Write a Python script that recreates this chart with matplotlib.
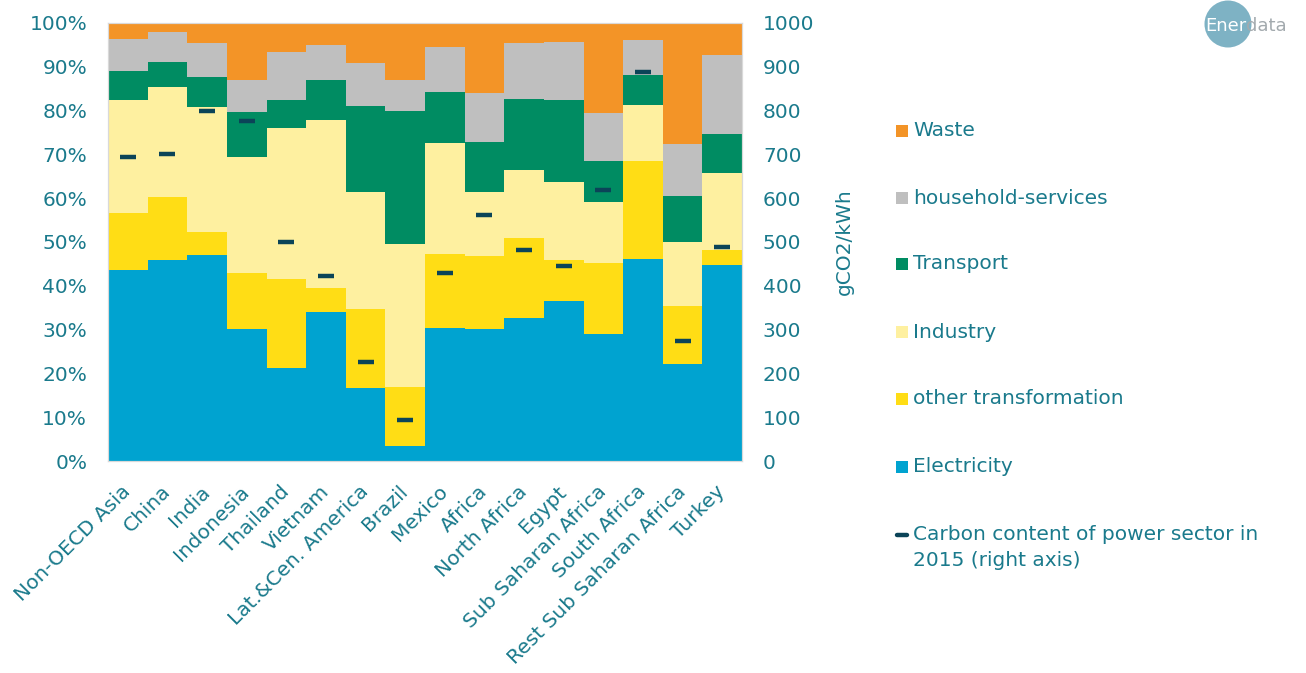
import numpy as np
import matplotlib.pyplot as plt
from matplotlib.patches import Rectangle, Circle
from matplotlib.lines import Line2D
from matplotlib.ticker import PercentFormatter

# Regions and sector shares of emissions (%)
regions = ["Non-OECD Asia", "China", "India", "Indonesia", "Thailand", "Vietnam",
           "Lat.&Cen. America", "Brazil", "Mexico", "Africa", "North Africa", "Egypt",
           "Sub Saharan Africa", "South Africa", "Rest Sub Saharan Africa", "Turkey"]

electricity = [43.6, 45.8, 47.0, 30.2, 21.3, 34.1, 16.6, 3.4, 30.3, 30.1, 32.6, 36.6, 29.1, 46.2, 22.1, 44.7]
other_transformation = [13.0, 14.4, 5.2, 12.6, 20.2, 5.3, 18.0, 13.5, 16.9, 16.8, 18.3, 9.2, 16.0, 22.3, 13.3, 3.4]
industry = [25.8, 25.1, 28.6, 26.7, 34.4, 38.5, 26.7, 32.7, 25.3, 14.4, 15.5, 17.8, 14.0, 12.8, 14.5, 17.6]
transport = [6.7, 5.8, 6.9, 10.1, 6.5, 9.1, 19.8, 30.3, 11.8, 11.4, 16.3, 18.9, 9.4, 6.9, 10.6, 9.0]
household_services = [7.3, 6.9, 7.8, 7.3, 11.0, 8.0, 9.7, 7.0, 10.3, 11.4, 12.6, 13.1, 11.0, 8.0, 11.9, 18.0]
waste = [3.6, 2.0, 4.5, 13.1, 6.6, 5.0, 9.2, 13.1, 5.4, 15.9, 4.7, 4.4, 20.5, 3.8, 27.6, 7.3]

# Carbon content of power sector in 2015 (gCO2/kWh, right axis)
carbon_content = [693, 700, 800, 777, 500, 422, 227, 93, 430, 561, 481, 444, 618, 888, 273, 488]

TEXT = "#1A7A8C"
sectors = [
    ("Electricity", electricity, "#00A3D0"),
    ("other transformation", other_transformation, "#FFDD15"),
    ("Industry", industry, "#FEF0A0"),
    ("Transport", transport, "#008C62"),
    ("household-services", household_services, "#BFBFBF"),
    ("Waste", waste, "#F39427"),
]

plt.rcParams["font.family"] = ["DejaVu Sans"]
plt.rcParams["font.size"] = 14.5

fig = plt.figure(figsize=(13.06, 6.73), dpi=100)
ax = fig.add_axes([0.0827, 0.315, 0.4855, 0.651])

x = np.arange(len(regions))
bottom = np.zeros(len(regions))
for name, vals, col in sectors:
    vals = np.array(vals) / 100.0
    ax.bar(x, vals, width=1.0, bottom=bottom, color=col, linewidth=0, label=name)
    bottom += vals

ax.set_xlim(-0.5, len(regions) - 0.5)
ax.set_ylim(0, 1)
ax.set_yticks(np.arange(0, 1.01, 0.1))
ax.yaxis.set_major_formatter(PercentFormatter(1.0, decimals=0))
ax.tick_params(axis="both", length=0, colors=TEXT, labelsize=14.5)
ax.tick_params(axis="y", pad=15)
ax.set_xticks(x)
ax.set_xticklabels(regions, rotation=45, ha="right", rotation_mode="anchor", va="center")
ax.tick_params(axis="x", pad=20)
for s in ax.spines.values():
    s.set_color("#D9D9D9")

# Right axis: carbon content markers
ax2 = ax.twinx()
ax2.plot(x, carbon_content, linestyle="none", marker="_", markersize=11.5,
         markeredgewidth=3.2, color="#0B4458")
ax2.set_ylim(0, 1000)
ax2.set_yticks(np.arange(0, 1001, 100))
ax2.tick_params(axis="y", length=0, colors=TEXT, labelsize=14.5, pad=15)
ax2.set_ylabel("gCO2/kWh", color=TEXT, fontsize=14.5, labelpad=15)
for s in ax2.spines.values():
    s.set_color("#D9D9D9")

# Legend drawn on the right side of the figure
W, H = 1306, 673
legend_rows = [("Waste", "#F39427", 131), ("household-services", "#BFBFBF", 198),
               ("Transport", "#008C62", 264), ("Industry", "#FEF0A0", 332),
               ("other transformation", "#FFDD15", 399), ("Electricity", "#00A3D0", 467)]
for label, col, yc in legend_rows:
    fig.patches.append(Rectangle((896 / W, 1 - (yc + 6) / H), 12 / W, 12 / H,
                                 transform=fig.transFigure, color=col, linewidth=0))
    fig.text(913 / W, 1 - yc / H, label, color=TEXT, fontsize=14.5, va="center", ha="left")
fig.lines.append(Line2D([897 / W, 907 / W], [1 - 535 / H, 1 - 535 / H], transform=fig.transFigure,
                        color="#0B4458", linewidth=3.2, solid_capstyle="round"))
fig.text(913 / W, 1 - 535 / H, "Carbon content of power sector in", color=TEXT, fontsize=14.5,
         va="center", ha="left")
fig.text(913 / W, 1 - 561 / H, "2015 (right axis)", color=TEXT, fontsize=14.5,
         va="center", ha="left")

# Enerdata logo (circle sized in inches so it stays round)
fig.patches.append(Circle((12.28, 6.73 - 0.24), 0.235, transform=fig.dpi_scale_trans,
                          color="#5E9FB6", alpha=0.8, linewidth=0))
fig.text(1205 / W, 1 - 26 / H, "Ener", color="white", fontsize=13, va="center", ha="left")
fig.text(1246 / W, 1 - 26 / H, "data", color="#A3AAAE", fontsize=13, va="center", ha="left")

fig.savefig("out.png", dpi=100)
